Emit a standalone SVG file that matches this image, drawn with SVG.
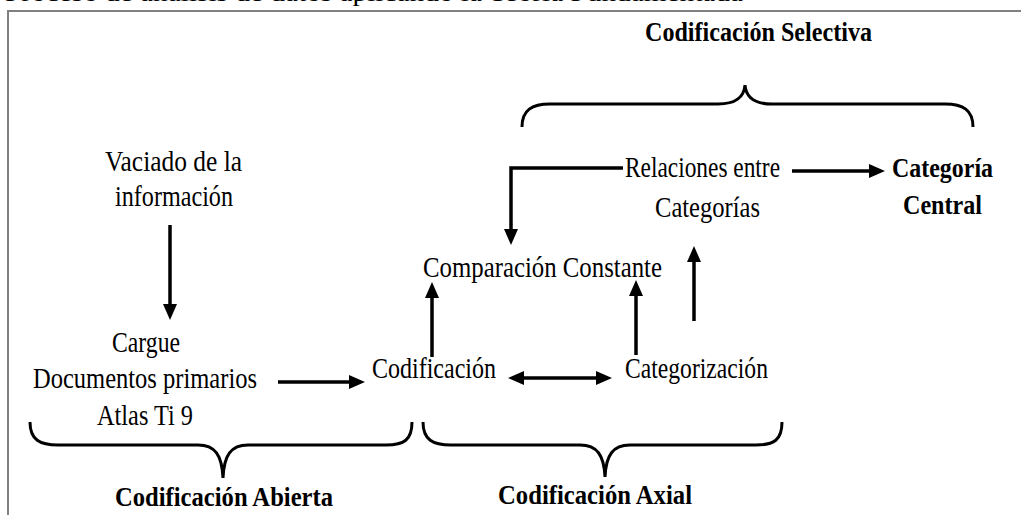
<svg xmlns="http://www.w3.org/2000/svg" width="1021" height="515" viewBox="0 0 1021 515">
<style>
text{font-family:"Liberation Serif","Times New Roman",serif;fill:#000}
.r{font-size:29px}
.b{font-size:27px;font-weight:bold}
.t{font-size:24px}
.ln{fill:none;stroke:#000;stroke-width:3.5}
.br{fill:none;stroke:#000;stroke-width:3}
.frame{fill:none;stroke:#808080;stroke-width:2}
</style>
<defs>
<marker id="ah" viewBox="0 0 16 14" refX="6" refY="7" markerWidth="16" markerHeight="14" markerUnits="userSpaceOnUse" orient="auto-start-reverse">
<path d="M0,0 L16,7 L0,14 z" fill="#000"/>
</marker>
</defs>
<rect width="1021" height="515" fill="#fff"/>
<text class="t" x="5" y="1" textLength="738" lengthAdjust="spacingAndGlyphs">Proceso de análisis de datos aplicando la Teoría Fundamentada</text>
<path class="frame" d="M8,516 V11 H1022"/>

<g id="braces">
<path class="br" d="M522,127 C522,110 532,104 550,104 L718,104 C735,104 744,98 745,85 C746,98 755,104 772,104 L945,104 C963,104 973,110 973,127"/>
<path class="br" d="M30,422 C30,440 40,445 58,445 L198,445 C215,445 222,455 223,478 C224,455 231,445 248,445 L386,445 C404,445 412,440 412,422"/>
<path class="br" d="M423,422 C423,440 433,445 451,445 L580,445 C597,445 604,455 605,477 C606,455 613,445 630,445 L756,445 C774,445 782,440 782,422"/>
</g>

<g id="n-vaciado">
<text class="r" x="105" y="171" textLength="137" lengthAdjust="spacingAndGlyphs">Vaciado de la</text>
<text class="r" x="115" y="206" textLength="118" lengthAdjust="spacingAndGlyphs">información</text>
</g>
<g id="n-cargue">
<text class="r" x="112" y="352" textLength="68" lengthAdjust="spacingAndGlyphs">Cargue</text>
<text class="r" x="33" y="388" textLength="224" lengthAdjust="spacingAndGlyphs">Documentos primarios</text>
<text class="r" x="97" y="425" textLength="96" lengthAdjust="spacingAndGlyphs">Atlas Ti 9</text>
</g>
<g id="n-codificacion">
<text class="r" x="372" y="378" textLength="124" lengthAdjust="spacingAndGlyphs">Codificación</text>
</g>
<g id="n-categorizacion">
<text class="r" x="625" y="378" textLength="143" lengthAdjust="spacingAndGlyphs">Categorización</text>
</g>
<g id="n-comparacion">
<text class="r" x="423" y="277" textLength="239" lengthAdjust="spacingAndGlyphs">Comparación Constante</text>
</g>
<g id="n-relaciones">
<text class="r" x="625" y="177" textLength="155" lengthAdjust="spacingAndGlyphs">Relaciones entre</text>
<text class="r" x="655" y="217" textLength="105" lengthAdjust="spacingAndGlyphs">Categorías</text>
</g>
<g id="n-central">
<text class="b" x="892" y="177" textLength="101" lengthAdjust="spacingAndGlyphs">Categoría</text>
<text class="b" x="903" y="214" textLength="79" lengthAdjust="spacingAndGlyphs">Central</text>
</g>
<g id="l-selectiva">
<text class="b" x="645" y="41" textLength="227" lengthAdjust="spacingAndGlyphs">Codificación Selectiva</text>
</g>
<g id="l-abierta">
<text class="b" x="115" y="506" textLength="218" lengthAdjust="spacingAndGlyphs">Codificación Abierta</text>
</g>
<g id="l-axial">
<text class="b" x="498" y="504" textLength="194" lengthAdjust="spacingAndGlyphs">Codificación Axial</text>
</g>

<g id="connectors">
<path class="ln" d="M170,225 V310" marker-end="url(#ah)"/>
<path class="ln" d="M278,382 H355" marker-end="url(#ah)"/>
<path class="ln" d="M518,378 H602" marker-start="url(#ah)" marker-end="url(#ah)"/>
<path class="ln" d="M432,357 V292" marker-end="url(#ah)"/>
<path class="ln" d="M636,355 V290" marker-end="url(#ah)"/>
<path class="ln" d="M694,321 V256" marker-end="url(#ah)"/>
<path class="ln" d="M623,168 H511 V235" marker-end="url(#ah)"/>
<path class="ln" d="M792,171 H875" marker-end="url(#ah)"/>
</g>
</svg>
